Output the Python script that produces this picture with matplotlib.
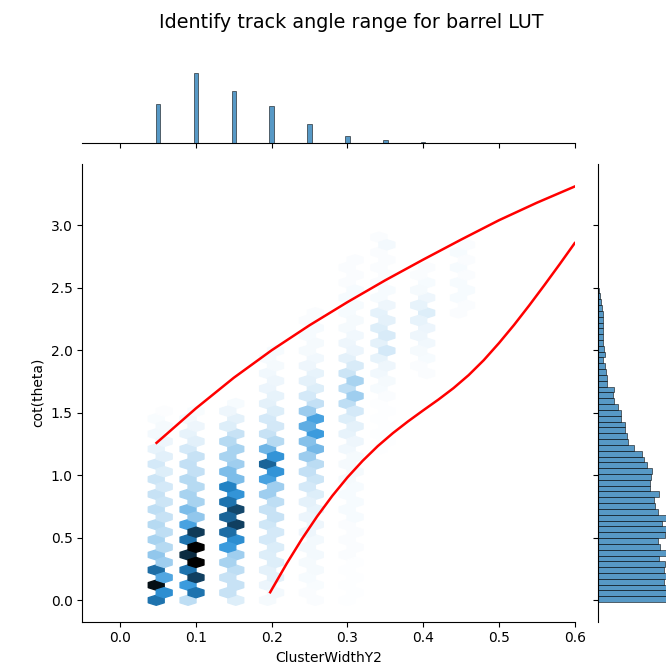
import colorsys

import matplotlib
matplotlib.use("Agg")
import matplotlib.pyplot as plt
import numpy as np
from matplotlib.colors import LinearSegmentedColormap, to_rgb

# --- data --------------------------------------------------------------
width_cols = [0.05, 0.10, 0.15, 0.20, 0.25, 0.30, 0.35, 0.40, 0.45]

# first hex row index of each column, then counts going up in cot(theta)
start_rows = [0, 0, 0, 0, 0, 0, 20, 30, 38]
hex_counts = [
    [600, 500, 950, 400, 620, 220, 250, 170, 200, 150, 170, 130, 150, 120,
     130, 100, 120, 80, 100, 70, 55, 40, 30, 25, 18, 10],
    [150, 600, 450, 780, 600, 1000, 850, 1000, 600, 800, 420, 250, 300, 200,
     200, 170, 170, 140, 140, 130, 100, 70, 55, 40, 28, 18],
    [80, 130, 130, 130, 150, 200, 220, 450, 500, 620, 780, 650, 750, 600,
     480, 550, 300, 300, 220, 200, 200, 170, 130, 80, 65, 40, 20],
    [25, 30, 45, 65, 65, 80, 80, 85, 100, 100, 110, 130, 130, 150, 220,
     220, 420, 480, 650, 480, 330, 170, 130, 105, 100, 80, 65, 55, 45, 40,
     33, 26, 20, 20],
    [12, 12, 18, 20, 25, 25, 30, 30, 30, 40, 40, 45, 55, 65, 80, 100, 120,
     140, 160, 230, 320, 280, 450, 370, 420, 230, 140, 100, 80, 65, 55, 40,
     33, 26, 26, 20, 20, 13, 13],
    [6, 6, 6, 6, 6, 6, 12, 12, 12, 12, 12, 20, 20, 20, 20, 20, 26, 26,
     26, 26, 33, 40, 55, 65, 80, 100, 150, 220, 150, 200, 120, 90, 65, 45,
     40, 33, 26, 26, 20, 20, 20, 20, 13, 13, 13, 13],
    [6, 6, 6, 6, 6, 6, 6, 13, 20, 26, 33, 40, 55, 100, 65, 90, 80,
     65, 60, 40, 20, 20, 13, 13, 13, 13, 13, 30, 13],
    [13, 13, 20, 26, 33, 40, 45, 55, 80, 55, 40, 26, 20, 13, 13],
    [13, 13, 20, 20, 20, 13, 20, 13, 20, 13],
]

# hex grid used by the joint plot
hex_extent = (0.0476, 0.9296, 0.0, 3.025)
hex_gridsize = (42, 25)

# top marginal histogram (ClusterWidthY2)
top_x = [0.05, 0.10, 0.15, 0.20, 0.25, 0.30, 0.35, 0.40]
top_counts = [3900, 7060, 5230, 3770, 1930, 770, 330, 130]

# right marginal histogram (cot(theta)), bins from bottom up
cot_bin_lo = -0.015
cot_bin_w = 0.0466
cot_counts = [680, 680, 670, 650, 670, 650, 660, 600, 670, 610,
              590, 660, 670, 630, 680, 590, 560, 550, 600, 510,
              510, 520, 530, 480, 450, 430, 360, 300, 290, 270,
              270, 230, 230, 200, 160, 150, 160, 90, 90, 80,
              70, 50, 70, 60, 50, 50, 50, 50, 50, 50,
              40, 30, 25, 10, 7, 5, 4, 3, 2]

# LUT boundary curves
upper_x = [0.048, 0.10, 0.15, 0.20, 0.25, 0.30, 0.35, 0.40, 0.45, 0.50, 0.55, 0.60]
upper_y = [1.259, 1.535, 1.78, 2.00, 2.20, 2.385, 2.56, 2.725, 2.885, 3.04, 3.18, 3.31]
lower_x = [0.198, 0.22, 0.24, 0.26, 0.28, 0.30, 0.32, 0.34, 0.36, 0.38, 0.40,
           0.42, 0.44, 0.46, 0.48, 0.50, 0.52, 0.54, 0.56, 0.58, 0.60]
lower_y = [0.064, 0.295, 0.491, 0.671, 0.835, 0.983, 1.115, 1.233, 1.337,
           1.431, 1.519, 1.605, 1.697, 1.801, 1.921, 2.057, 2.203, 2.359,
           2.521, 2.687, 2.857]

# --- build hexbin input points --------------------------------------------
row_step = (hex_extent[3] - hex_extent[2]) / hex_gridsize[1] / 2
px, py, pc = [], [], []
for xv, r0, counts in zip(width_cols, start_rows, hex_counts):
    for k, c in enumerate(counts):
        px.append(xv)
        py.append(hex_extent[2] + (r0 + k) * row_step)
        pc.append(c)

# seaborn's jointplot hex colormap: C0 lightness 1 -> 0
h, l, s = colorsys.rgb_to_hls(*to_rgb("C0"))
cmap = LinearSegmentedColormap.from_list(
    "hexblue", [colorsys.hls_to_rgb(h, li, s) for li in np.linspace(1, 0, 12)])

W, H = 666, 670
fig = plt.figure(figsize=(W / 100, H / 100), dpi=100)
ax = fig.add_axes([82.3 / W, 1 - 621.5 / H, 492.4 / W, 457.5 / H])
ax_top = fig.add_axes([82.3 / W, 1 - 143.3 / H, 492.4 / W, 74.1 / H], sharex=ax)
ax_right = fig.add_axes([597.7 / W, 1 - 621.5 / H, 72.8 / W, 457.5 / H], sharey=ax)

ax.hexbin(px, py, C=pc, reduce_C_function=np.sum, gridsize=hex_gridsize,
          extent=hex_extent, cmap=cmap, vmin=0)
ax.plot(upper_x, upper_y, color="red", lw=1.8)
ax.plot(lower_x, lower_y, color="red", lw=1.8)

bar_kw = dict(color="#1f77b4", alpha=0.75, edgecolor="black", linewidth=0.5)
ax_top.bar(top_x, top_counts, width=0.006, **bar_kw)
cot_centers = cot_bin_lo + cot_bin_w * (np.arange(len(cot_counts)) + 0.5)
ax_right.barh(cot_centers, cot_counts, height=cot_bin_w, **bar_kw)

ax.set_xlim(-0.05, 0.6)
ax.set_ylim(-0.17, 3.49)
ax.set_xticks(np.arange(0, 0.61, 0.1))
ax.set_yticks(np.arange(0, 3.01, 0.5))
ax.set_xlabel("ClusterWidthY2")
ax.set_ylabel("cot(theta)")
for sp in ("top", "right"):
    ax.spines[sp].set_visible(False)

ax_top.set_ylim(0, max(top_counts) * 1.05)
ax_top.tick_params(labelbottom=False, left=False, labelleft=False)
for sp in ("top", "right", "left"):
    ax_top.spines[sp].set_visible(False)

ax_right.set_xlim(0, max(cot_counts) * 1.05)
ax_right.tick_params(labelleft=False, bottom=False, labelbottom=False)
for sp in ("top", "right", "bottom"):
    ax_right.spines[sp].set_visible(False)

fig.text(351.5 / W, 1 - 22 / H, "Identify track angle range for barrel LUT",
         ha="center", va="center", fontsize=13.8)

fig.savefig("out.png", dpi=100)
